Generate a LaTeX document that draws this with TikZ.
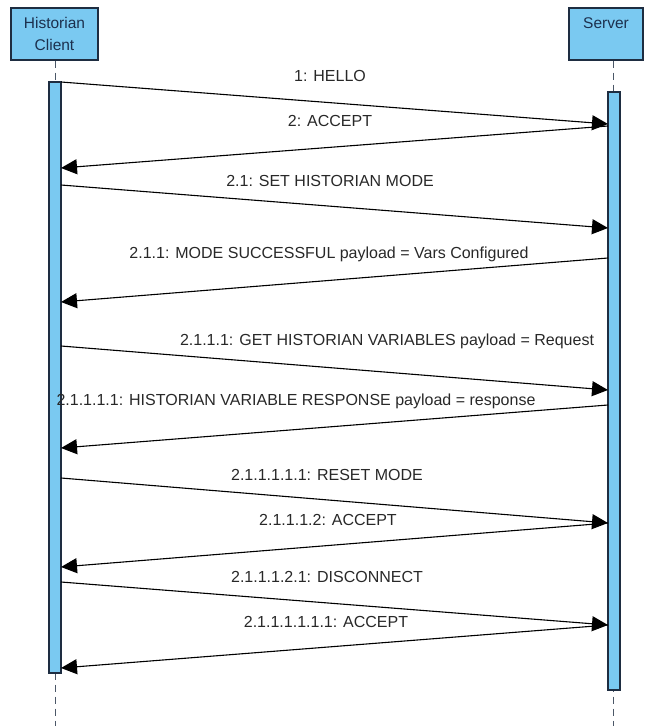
\documentclass[tikz,border=0pt]{standalone}
\usepackage{fontspec}
\setmainfont{Liberation Sans}
\usetikzlibrary{arrows.meta}

\definecolor{lifeblue}{RGB}{122,201,241}
\definecolor{lifeedge}{RGB}{30,45,65}
\definecolor{headtext}{RGB}{28,48,78}
\definecolor{msgtext}{RGB}{40,40,40}

\begin{document}
\begin{tikzpicture}[x=1pt,y=-1pt]
      \useasboundingbox (0,0) rectangle (648,726);
      \tikzset{Head/.style = {draw=lifeedge, line width=1.2pt, fill=lifeblue,
                 text=headtext, align=center, inner sep=0pt,
                 font=\fontsize{15.5}{22}\selectfont},
               Bar/.style = {draw=lifeedge, line width=1.2pt, fill=lifeblue,
                 minimum width=12pt, inner sep=0pt},
               Life/.style = {draw=lifeedge!80, line width=1pt, dash pattern=on 7pt off 5pt},
               Label/.style = {text=msgtext, inner sep=0pt,
                 font=\fontsize{16}{18}\selectfont}}

      % Lifelines
      \node[Head, minimum width=87pt, minimum height=52pt] (client) at (54.5,34) {Historian\\Client};
      \node[Head, minimum width=74pt, minimum height=52pt] (server) at (606,34) {Server\\\phantom{C}};
      \coordinate (cend) at (55,726);
      \coordinate (send) at (613.5,726);
      \draw[Life] (client.south -| cend) -- (cend);
      \draw[Life] (server.south -| send) -- (send);
      \node[Bar, minimum height=591pt] (cbar) at (55,377.5) {};
      \node[Bar, minimum height=598pt] (sbar) at (614,391) {};

      % Message ends
      \coordinate (c1) at (61,82);    \coordinate (s1) at (608,124);
      \coordinate (s2) at (608,126);  \coordinate (c2) at (61,168);
      \coordinate (c3) at (61,185);   \coordinate (s3) at (608,228);
      \coordinate (s4) at (608,258);  \coordinate (c4) at (61,302);
      \coordinate (c5) at (61,346);   \coordinate (s5) at (608,390);
      \coordinate (s6) at (608,405);  \coordinate (c6) at (61,448);
      \coordinate (c7) at (61,478);   \coordinate (s7) at (608,523);
      \coordinate (s8) at (608,523);  \coordinate (c8) at (61,567);
      \coordinate (c9) at (61,582);   \coordinate (s9) at (608,625);
      \coordinate (s10) at (608,625); \coordinate (c10) at (61,668);

      % Messages
      \tikzset{Msg/.style = {draw=black, line width=1.1pt,
                 -{Triangle[length=16pt,width=15pt]}}}
      \draw[Msg] (c1) -- (s1);
      \draw[Msg] (s2) -- (c2);
      \draw[Msg] (c3) -- (s3);
      \draw[Msg] (s4) -- (c4);
      \draw[Msg] (c5) -- (s5);
      \draw[Msg] (s6) -- (c6);
      \draw[Msg] (c7) -- (s7);
      \draw[Msg] (s8) -- (c8);
      \draw[Msg] (c9) -- (s9);
      \draw[Msg] (s10) -- (c10);

      % Labels
      \node[Label] (hello) at (330,76) {1: HELLO};
      \node[Label] (accept) at (330,121) {2: ACCEPT};
      \node[Label] (setmode) at (330,181) {2.1: SET HISTORIAN MODE};
      \node[Label] (modeok) at (329,254) {2.1.1: MODE SUCCESSFUL payload = Vars Configured};
      \node[Label] (getvars) at (387,341) {2.1.1.1: GET HISTORIAN VARIABLES payload = Request};
      \node[Label] (varresp) at (296,401) {2.1.1.1.1: HISTORIAN VARIABLE RESPONSE payload = response};
      \node[Label] (reset) at (327,475) {2.1.1.1.1.1: RESET MODE};
      \node[Label] (resetok) at (328,520) {2.1.1.1.2: ACCEPT};
      \node[Label] (disconnect) at (327,577) {2.1.1.1.2.1: DISCONNECT};
      \node[Label] (disconnectok) at (326,622) {2.1.1.1.1.1.1: ACCEPT};
\end{tikzpicture}
\end{document}
